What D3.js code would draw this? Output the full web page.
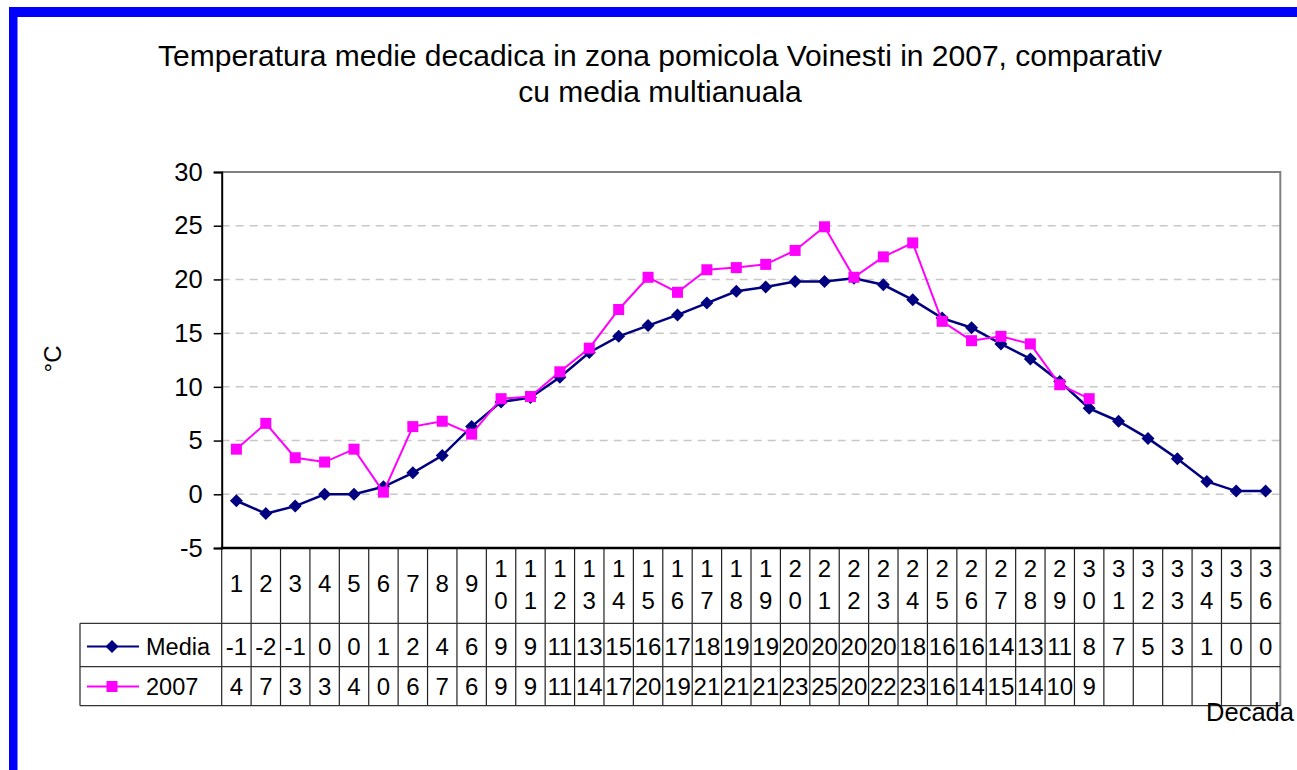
<!DOCTYPE html>
<html>
<head>
<meta charset="utf-8">
<script src="https://cdn.jsdelivr.net/npm/d3@7"></script>
<style>
  body { margin: 0; background: #fff; }
  text { font-family: "Liberation Sans", Arial, sans-serif; fill: #000; }
</style>
</head>
<body>
<div id="chart"></div>
<script>
// Data
var decades = d3.range(1, 37);
var media = [-0.6, -1.8, -1.1, 0, 0, 0.7, 2.0, 3.6, 6.3, 8.6, 9.0, 10.9,
             13.2, 14.7, 15.7, 16.7, 17.8, 18.9, 19.3, 19.8, 19.8, 20.1, 19.5, 18.1,
             16.4, 15.5, 14.0, 12.6, 10.5, 8.0, 6.8, 5.2, 3.3, 1.2, 0.3, 0.3];
var an2007 = [4.2, 6.6, 3.4, 3.0, 4.2, 0.2, 6.3, 6.8, 5.6, 8.9, 9.1, 11.4,
              13.6, 17.2, 20.2, 18.8, 20.9, 21.1, 21.4, 22.7, 24.9, 20.2, 22.1, 23.4,
              16.1, 14.3, 14.7, 14.0, 10.2, 8.9];
var yTicks = [-5, 0, 5, 10, 15, 20, 25, 30];
var gridTicks = [0, 5, 10, 15, 20, 25];
var seriesNames = ["Media", "2007"];

var W = 1297, H = 770;
var plotLeft = 221.7, plotRight = 1280.3, plotTop = 172, plotBottom = 548;
var rowTop = 623.3, rowMid = 666.7, rowBot = 705.7, tableLeft = 80;

var svg = d3.select("#chart").append("svg")
  .attr("width", W)
  .attr("height", H);

svg.append("rect").attr("width", W).attr("height", H).attr("fill", "#fff");

// blue frame (left + top)
svg.append("rect").attr("x", 9).attr("y", 7).attr("width", W - 9).attr("height", 10).attr("fill", "#0000ff");
svg.append("rect").attr("x", 9).attr("y", 7).attr("width", 8.5).attr("height", H - 7).attr("fill", "#0000ff");

// Title
svg.append("text").attr("x", 660).attr("y", 66).attr("text-anchor", "middle")
  .style("font-size", "30px")
  .text("Temperatura medie decadica in zona pomicola Voinesti in 2007, comparativ");
svg.append("text").attr("x", 660).attr("y", 102).attr("text-anchor", "middle")
  .style("font-size", "30px")
  .text("cu media multianuala");

// Scales
var x = d3.scaleBand().domain(decades).range([plotLeft, plotRight]);
var y = d3.scaleLinear().domain([-5, 30]).range([plotBottom, plotTop]);
var cx = function(d) { return x(d) + x.bandwidth() / 2; };

// grid
svg.append("g").selectAll("line").data(gridTicks).enter().append("line")
  .attr("x1", plotLeft).attr("x2", plotRight)
  .attr("y1", function(d) { return y(d); })
  .attr("y2", function(d) { return y(d); })
  .attr("stroke", "#c8c8c8")
  .attr("stroke-width", 1.5)
  .attr("stroke-dasharray", "8,6");

// plot border top/right
svg.append("path")
  .attr("d", "M" + plotLeft + "," + plotTop + "H" + plotRight + "V" + rowBot)
  .attr("fill", "none").attr("stroke", "#808080").attr("stroke-width", 2);

// y axis
var yAxis = svg.append("g")
  .attr("transform", "translate(" + plotLeft + ",0)")
  .call(d3.axisLeft(y).tickValues(yTicks).tickSize(8).tickPadding(11)
    .tickFormat(function(d) { return String(d); }));
yAxis.select(".domain").attr("stroke", "#000").attr("stroke-width", 2);
yAxis.selectAll(".tick line").attr("stroke", "#000").attr("stroke-width", 1.5);
yAxis.selectAll("text").style("font-size", "25.5px")
  .attr("font-family", "Liberation Sans, Arial, sans-serif").attr("fill", "#000");

// y label
svg.append("text")
  .attr("transform", "translate(61,359) rotate(-90)")
  .attr("text-anchor", "middle")
  .style("font-size", "24px")
  .text("°C");

// data table
var tbl = svg.append("g");
// column separators
tbl.selectAll("line.col").data(decades).enter().append("line")
  .attr("x1", function(d) { return x(d); }).attr("x2", function(d) { return x(d); })
  .attr("y1", plotBottom).attr("y2", rowBot)
  .attr("stroke", "#222").attr("stroke-width", 1.2);
// horizontal rows
[rowTop, rowMid, rowBot].forEach(function(yy) {
  tbl.append("line").attr("x1", tableLeft).attr("x2", plotRight)
    .attr("y1", yy).attr("y2", yy)
    .attr("stroke", "#333").attr("stroke-width", 1.3);
});
tbl.append("line").attr("x1", tableLeft).attr("x2", tableLeft)
  .attr("y1", rowTop).attr("y2", rowBot)
  .attr("stroke", "#333").attr("stroke-width", 1.3);

// x axis line
svg.append("line").attr("x1", plotLeft - 1).attr("x2", plotRight)
  .attr("y1", plotBottom).attr("y2", plotBottom)
  .attr("stroke", "#000").attr("stroke-width", 2.5);

// category labels (two digit numbers wrap)
var cat = tbl.selectAll("text.cat").data(decades).enter().append("text")
  .attr("text-anchor", "middle")
  .style("font-size", "24px");
cat.each(function(d) {
  var t = d3.select(this), s = String(d);
  if (s.length === 1) {
    t.append("tspan").attr("x", cx(d)).attr("y", 592).text(s);
  } else {
    t.append("tspan").attr("x", cx(d)).attr("y", 577).text(s[0]);
    t.append("tspan").attr("x", cx(d)).attr("y", 609).text(s[1]);
  }
});

// value rows
var rows = [media, an2007];
var rowY = [655, 695];
rows.forEach(function(vals, r) {
  tbl.selectAll("text.v" + r).data(vals).enter().append("text")
    .attr("x", function(d, i) { return cx(decades[i]); })
    .attr("y", rowY[r])
    .attr("text-anchor", "middle")
    .style("font-size", "24px")
    .text(function(d) { return String(Math.round(d) === 0 ? 0 : Math.round(d)); });
});

// series lines
var diamond = "M0,-6.5L6.5,0L0,6.5L-6.5,0Z";
var line = d3.line()
  .x(function(d, i) { return cx(decades[i]); })
  .y(function(d) { return y(d); });

svg.append("path").datum(media)
  .attr("d", line).attr("fill", "none")
  .attr("stroke", "#000080").attr("stroke-width", 2.5);
svg.append("g").selectAll("path").data(media).enter().append("path")
  .attr("d", diamond)
  .attr("transform", function(d, i) { return "translate(" + cx(decades[i]) + "," + y(d) + ")"; })
  .attr("fill", "#000080");

svg.append("path").datum(an2007)
  .attr("d", line).attr("fill", "none")
  .attr("stroke", "#ff00ff").attr("stroke-width", 2);
svg.append("g").selectAll("rect").data(an2007).enter().append("rect")
  .attr("x", function(d, i) { return cx(decades[i]) - 5.5; })
  .attr("y", function(d) { return y(d) - 5.5; })
  .attr("width", 11).attr("height", 11)
  .attr("fill", "#ff00ff");

// legend keys inside table
var keyColors = ["#000080", "#ff00ff"];
seriesNames.forEach(function(name, r) {
  var ky = rowY[r] - 8.5;
  svg.append("line").attr("x1", 87).attr("x2", 139).attr("y1", ky).attr("y2", ky)
    .attr("stroke", keyColors[r]).attr("stroke-width", 2);
  if (r === 0) {
    svg.append("path").attr("d", diamond)
      .attr("transform", "translate(112," + ky + ")").attr("fill", keyColors[r]);
  } else {
    svg.append("rect").attr("x", 112 - 5.5).attr("y", ky - 5.5)
      .attr("width", 11).attr("height", 11).attr("fill", keyColors[r]);
  }
  svg.append("text").attr("x", 146).attr("y", rowY[r])
    .style("font-size", "23.5px").text(name);
});

// x label
svg.append("text").attr("x", 1294).attr("y", 721).attr("text-anchor", "end")
  .style("font-size", "25.5px").text("Decada");
</script>
</body>
</html>
